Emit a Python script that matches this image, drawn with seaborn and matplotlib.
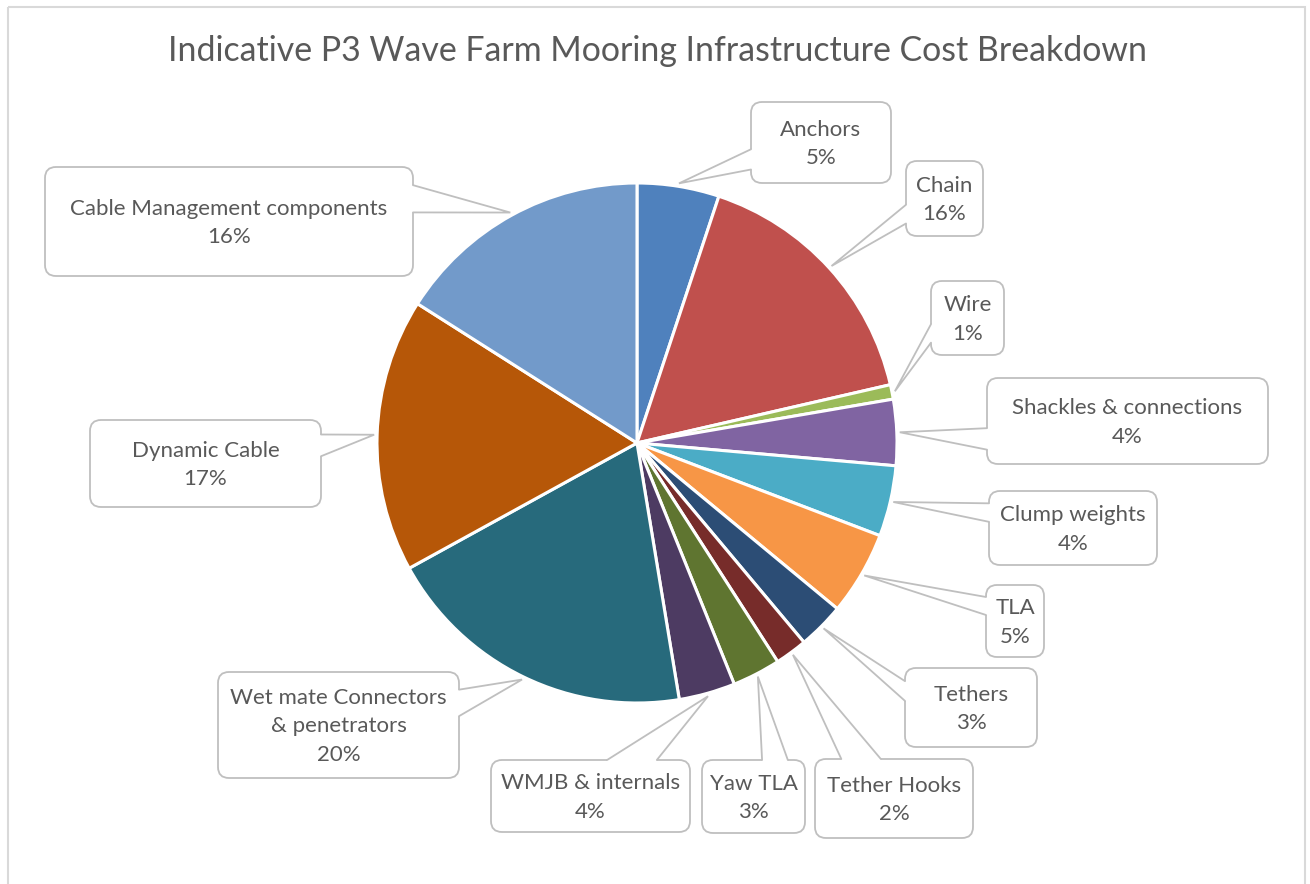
import numpy as np
import matplotlib
matplotlib.use("Agg")
import matplotlib.pyplot as plt
import seaborn as sns
from matplotlib.patches import FancyBboxPatch, Polygon

sns.set_style("white")
plt.rcParams['font.family'] = ['Lato', 'DejaVu Sans']

# data, clockwise from 12 o'clock
labels = ['Anchors', 'Chain', 'Wire', 'Shackles & connections', 'Clump weights', 'TLA',
          'Tethers', 'Tether Hooks', 'Yaw TLA', 'WMJB & internals',
          'Wet mate Connectors\n& penetrators', 'Dynamic Cable', 'Cable Management components']
shares = [5.1, 16.3, 0.9, 4.1, 4.4, 5.2, 2.9, 2.0, 3.0, 3.5, 19.6, 17.0, 16.0]
colors = ['#4F81BD', '#C0504D', '#9BBB59', '#8064A2', '#4BACC6', '#F79646',
          '#2C4D75', '#772C2A', '#5F7530', '#4D3B62', '#276A7C', '#B65708', '#729ACA']

# callout boxes (x0, y0, x1, y1) in pixels, y down
boxes = [(751, 102, 891, 183), (906, 161, 983, 236), (931, 281, 1004, 355),
         (987, 378, 1268, 464), (989, 491, 1157, 565), (986, 585, 1044, 657),
         (905, 668, 1037, 747), (815, 759, 973, 838), (702, 760, 805, 833),
         (491, 760, 690, 832), (218, 672, 459, 778), (90, 420, 321, 507),
         (45, 167, 413, 276)]

W, H = 1310, 884
cx, cy, R = 637, 443, 260
grey_line = '#BFBFBF'
txt_col = '#595959'

fig = plt.figure(figsize=(W / 100, H / 100), dpi=100)
ax = fig.add_axes([0, 0, 1, 1])

# chart border
ax.add_patch(plt.Rectangle((8, 7), 1297, 900, fill=False, ec='#D9D9D9', lw=1.5, zorder=1))

ax.pie(shares, colors=colors, startangle=-90, counterclock=True, center=(cx, cy), radius=R,
       wedgeprops=dict(edgecolor='white', linewidth=2.2), frame=True)
ax.set_xlim(0, W)
ax.set_ylim(H, 0)
ax.set_aspect('equal')
ax.axis('off')

ax.text(658, 51, 'Indicative P3 Wave Farm Mooring Infrastructure Cost Breakdown',
        ha='center', va='center', fontsize=24.4, color=txt_col)

cum = np.cumsum(shares)
mids = (cum - np.array(shares) / 2) / cum[-1]

for lab, val, mid, (x0, y0, x1, y1) in zip(labels, shares, mids, boxes):
    a = 2 * np.pi * mid
    tx, ty = cx + (R + 3) * np.sin(a), cy - (R + 3) * np.cos(a)
    w, h = x1 - x0, y1 - y0
    bx, by = (x0 + x1) / 2, (y0 + y1) / 2
    dx, dy = tx - bx, ty - by
    # wedge callout: base sits on the side facing the tip
    if abs(dx * h / w) > abs(dy):
        fr = (7 / 12, 10 / 12) if dy > 0 else (2 / 12, 5 / 12)
        xs = x0 if dx < 0 else x1
        b1, b2 = (xs, y0 + h * fr[0]), (xs, y0 + h * fr[1])
        inw = (3, 0) if dx < 0 else (-3, 0)
    else:
        fr = (7 / 12, 10 / 12) if dx > 0 else (2 / 12, 5 / 12)
        ys = y0 if dy < 0 else y1
        b1, b2 = (x0 + w * fr[0], ys), (x0 + w * fr[1], ys)
        inw = (0, 3) if dy < 0 else (0, -3)

    ax.add_patch(FancyBboxPatch((x0, y0), w, h, boxstyle='round,pad=0,rounding_size=11',
                                fc='white', ec=grey_line, lw=1.3, zorder=3))
    ax.add_patch(Polygon([b1, (tx, ty), b2, (b2[0] + inw[0], b2[1] + inw[1]),
                          (b1[0] + inw[0], b1[1] + inw[1])],
                         closed=True, fc='white', ec='none', zorder=4))
    ax.plot([b1[0], tx, b2[0]], [b1[1], ty, b2[1]], color=grey_line, lw=1.3, zorder=5,
            solid_joinstyle='miter')
    ax.text(bx, by + 1.5, f'{lab}\n{val:.0f}%', ha='center', va='center', fontsize=16,
            color=txt_col, linespacing=1.55, zorder=6)

plt.savefig('out.png', dpi=100)
